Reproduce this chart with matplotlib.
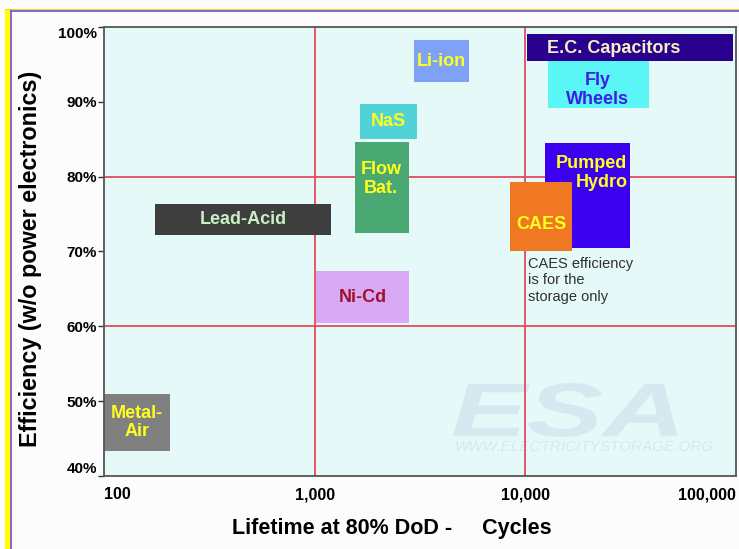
import numpy as np
import matplotlib.pyplot as plt
from matplotlib.patches import Rectangle, PathPatch
from matplotlib.textpath import TextPath
from matplotlib.font_manager import FontProperties
from matplotlib.lines import Line2D
from matplotlib.transforms import Affine2D

plt.rcParams['font.family'] = ['Liberation Sans', 'DejaVu Sans']

# storage technologies: cycle life range (x) and efficiency range in % (y)
techs = ['Li-ion', 'E.C. Capacitors', 'Fly\nWheels', 'NaS', 'Flow\nBat.',
         'Lead-Acid', 'Pumped\nHydro', 'CAES', 'Ni-Cd', 'Metal-\nAir']
cycles_lo = [2950, 10200, 12800, 1640, 1550, 175, 12400, 8500, 1020, 100]
cycles_hi = [5430, 97000, 38500, 3050, 2800, 1190, 31500, 16700, 2800, 205]
eff_lo = [92.6, 95.4, 89.2, 85.1, 72.5, 72.2, 70.5, 70.0, 60.4, 43.4]
eff_hi = [98.2, 99.1, 95.4, 89.7, 84.6, 76.4, 84.5, 79.3, 67.4, 50.9]

x_ticks = [100, 1000, 10000, 100000]
x_ticklabels = ['100', '1,000', '10,000', '100,000']
y_ticks = [40, 50, 60, 70, 80, 90, 100]
y_ticklabels = ['40%', '50%', '60%', '70%', '80%', '90%', '100%']
note = 'CAES efficiency\nis for the\nstorage only'

# styling
box_colors = ['#80a2f6', '#2a008e', '#5af6f6', '#52d2d6', '#4aa872',
              '#3e3e3e', '#3c00f0', '#f07822', '#d8aaf6', '#808080']
text_colors = ['#ffff20', '#f2f0c4', '#3c1ee6', '#ffff20', '#ffff20',
               '#c8f0c4', '#ffff20', '#ffff20', '#a0102c', '#ffff20']
# labels not centred in their box: (x, y, ha)
label_pos = {'E.C. Capacitors': (26200, 97.1, 'center'),
             'Fly\nWheels': (22100, 91.6, 'center'),
             'Flow\nBat.': (2070, 79.7, 'center'),
             'Pumped\nHydro': (30500, 80.5, 'right'),
             'CAES': (11900, 73.6, 'center')}

fig = plt.figure(figsize=(7.39, 5.49), dpi=100, facecolor='#fcfcfc')
ax = fig.add_axes([104 / 739, 73 / 549, 632 / 739, 449 / 549])
ax.set_facecolor('#e6f9f9')
ax.set_xscale('log')
ax.set_xlim(100, 100000)
ax.set_ylim(40, 100)

# red grid lines
for xv in [1000, 10000]:
    ax.axvline(xv, color='#e8485e', lw=1.3, zorder=1)
for yv in [60, 80]:
    ax.axhline(yv, color='#e8485e', lw=1.3, zorder=1)

# watermark
fp = FontProperties(family='Liberation Sans', weight='bold', style='italic')
tp = TextPath((0, 0), 'ESA', size=50, prop=fp)
ext = tp.get_extents()
sx = 0.355 / ext.width
sy = 0.12 / ext.height
tr = Affine2D().translate(-ext.x0, -ext.y0).scale(sx, sy).translate(0.552, 0.087)
ax.add_patch(PathPatch(tr.transform_path(tp), transform=ax.transAxes,
                       facecolor='#d5e9f0', edgecolor='none', zorder=0.5))
ax.text(0.76, 0.065, 'WWW.ELECTRICITYSTORAGE.ORG', transform=ax.transAxes,
        fontsize=11, style='italic', color='#d5e9f0', ha='center', va='center',
        zorder=0.5)

# boxes
for i, name in enumerate(techs):
    ax.add_patch(Rectangle((cycles_lo[i], eff_lo[i]), cycles_hi[i] - cycles_lo[i],
                           eff_hi[i] - eff_lo[i], facecolor=box_colors[i],
                           edgecolor='none', zorder=2 + i * 0.01))
    if name in label_pos:
        lx, ly, ha = label_pos[name]
    else:
        lx = np.sqrt(cycles_lo[i] * cycles_hi[i])
        ly = (eff_lo[i] + eff_hi[i]) / 2
        ha = 'center'
    ax.text(lx, ly, name, ha=ha, va='center', multialignment=ha,
            fontsize=13, fontweight='bold', color=text_colors[i], zorder=3,
            linespacing=1.15)

ax.text(10300, 69.3, note, ha='left', va='top', fontsize=10.5,
        color='#303030', linespacing=1.25, zorder=3)

# axes styling
for s in ax.spines.values():
    s.set_color('#555555')
    s.set_linewidth(1.3)
ax.set_xticks(x_ticks)
ax.set_xticklabels(x_ticklabels, fontsize=11.5, fontweight='bold')
ax.minorticks_off()
ax.tick_params(axis='x', length=0, pad=8)
xt = ax.get_xticklabels()
xt[0].set_ha('left')
xt[-1].set_ha('right')
ax.set_yticks(y_ticks)
ax.set_yticklabels(y_ticklabels, fontsize=11, fontweight='bold')
ax.tick_params(axis='y', length=4, width=1, color='#333333', pad=1)
yt = ax.get_yticklabels()
yt[0].set_va('bottom')
yt[-1].set_va('top')

ax.set_ylabel('Efficiency (w/o power electronics)', fontsize=16.8,
              fontweight='bold')
ax.yaxis.set_label_coords(-0.098, 0.483)
ax.set_xlabel('Lifetime at 80% DoD -     Cycles', fontsize=15.5,
              fontweight='bold')
ax.xaxis.set_label_coords(0.455, -0.094)

# yellow / purple frame at left and top
W, H = 739, 549
fig.add_artist(Rectangle((5 / W, 0), 5 / W, 1 - 9 / H, transform=fig.transFigure,
                         facecolor='#ffff00', edgecolor='none'))
fig.add_artist(Rectangle((5 / W, 1 - 10 / H), 1, 1.2 / H, transform=fig.transFigure,
                         facecolor='#f0e000', edgecolor='none'))
fig.add_artist(Line2D([10.5 / W, 10.5 / W], [0, 1 - 10.5 / H],
                      transform=fig.transFigure, color='#6a4cd0', lw=1.2))
fig.add_artist(Line2D([10.5 / W, 1], [1 - 10.8 / H, 1 - 10.8 / H],
                      transform=fig.transFigure, color='#6a4cd0', lw=1.2))

fig.savefig('out.png', dpi=100, facecolor=fig.get_facecolor())
